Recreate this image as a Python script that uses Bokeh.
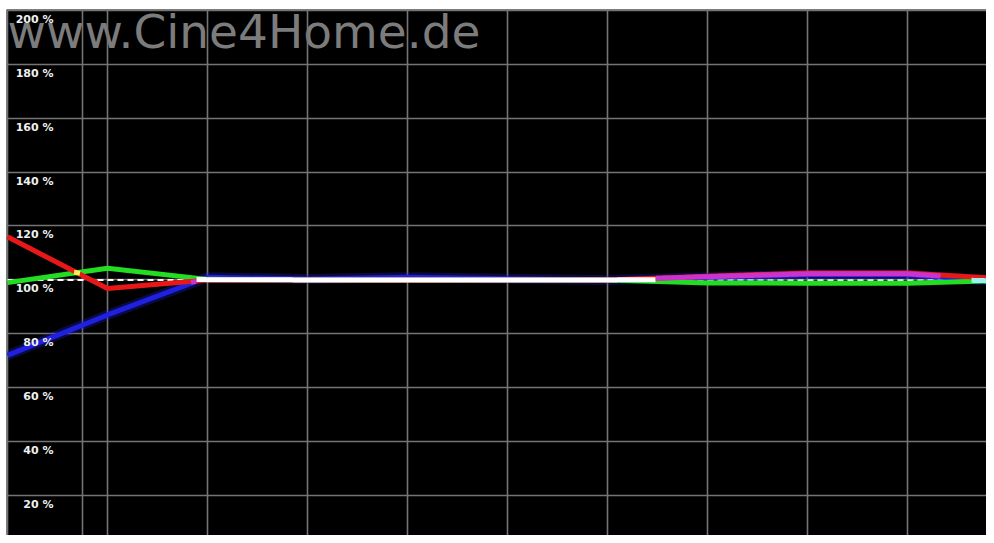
import numpy as np
from bokeh.plotting import figure
from bokeh.models import FixedTicker, Range1d
from bokeh.core.properties import value
from bokeh.embed import file_html
from bokeh.resources import INLINE

# ---- data ----
x_ire = [0, 10, 20, 30, 40, 50, 60, 70, 80, 90, 100]
red_pct = [116.0, 96.8, 100.0, 100.0, 100.0, 100.0, 100.0, 101.4, 102.6, 102.6, 100.3]
green_pct = [99.0, 104.3, 100.2, 100.0, 100.0, 100.0, 100.0, 98.9, 98.8, 98.8, 99.8]
blue_pct = [72.0, 87.0, 101.0, 100.3, 101.0, 100.4, 100.0, 101.0, 101.9, 101.9, 99.3]

ytick_vals = [20, 40, 60, 80, 100, 120, 140, 160, 180, 200]
ytick_labels = [f"{v} %" for v in ytick_vals]
xgrid_vals = [0, 7.5, 10, 20, 30, 40, 50, 60, 70, 80, 90]
reference_pct = 100
watermark_text = "www.Cine4Home.de"

p = figure(width=986, height=535, x_range=Range1d(-0.1, 97.9), y_range=Range1d(5.2, 200.3),
           output_backend="svg", toolbar_location=None,
           min_border_left=6, min_border_top=9, min_border_right=0, min_border_bottom=0,
           background_fill_color="black", border_fill_color="white")
p.axis.visible = False
p.outline_line_color = None
p.xgrid.ticker = FixedTicker(ticks=xgrid_vals)
p.ygrid.ticker = FixedTicker(ticks=ytick_vals)
for g in (p.xgrid, p.ygrid):
    g.grid_line_color = "#747474"
    g.grid_line_width = 1.6
    g.grid_line_alpha = 1.0

# watermark (beneath the grid)
p.text(x=[0], y=[186.3], text=[watermark_text], text_font=value("DejaVu Sans"),
       text_font_size="47px", text_color="#7c7c7c", text_baseline="alphabetic",
       text_align="left", y_offset=-16, level="image")

# reference line
p.line([x_ire[0], x_ire[-1]], [reference_pct, reference_pct], line_color="white",
       line_width=2, line_dash="6 4")

# base lines
p.line(x_ire, blue_pct, line_color="#2222dd", line_width=10, line_alpha=0.3)
p.line(x_ire, blue_pct, line_color="#2020e0", line_width=5)
p.line(x_ire, green_pct, line_color="#22dd22", line_width=5)
p.line(x_ire, red_pct, line_color="#e81818", line_width=5)

# additive-style overlap colouring
xf = np.linspace(x_ire[0], x_ire[-1], 2001)
rf = np.interp(xf, x_ire, red_pct)
gf = np.interp(xf, x_ire, green_pct)
bf = np.interp(xf, x_ire, blue_pct)
tol_pair = 0.8
tol_all = 1.2
rg = np.abs(rf - gf) < tol_pair
rb = np.abs(rf - bf) < tol_pair
gb = np.abs(gf - bf) < tol_pair
all3 = (np.abs(rf - gf) < tol_all) & (np.abs(rf - bf) < tol_all) & (np.abs(gf - bf) < tol_all)

def seg(mask, y):
    return np.where(mask, y, np.nan)

p.line(xf, seg(rb & ~all3, (rf + bf) / 2), line_color="#cc33cc", line_width=5)
p.line(xf, seg(rg & ~all3, (rf + gf) / 2), line_color="#f2f25a", line_width=5)
p.line(xf, seg(gb & ~all3, (gf + bf) / 2), line_color="#9ff0f0", line_width=5)
p.line(xf, seg(all3, (rf + gf) / 2), line_color="white", line_width=5)

# y labels inside plot (on top of the lines)
p.text(x=[4.6] * len(ytick_vals), y=ytick_vals, text=ytick_labels,
       text_font=value("DejaVu Sans"), text_font_size="11px", text_font_style="bold",
       text_color="#f0f0f0", text_align="right", text_baseline="middle", y_offset=9)

open("out.html", "w").write(file_html(p, INLINE))
